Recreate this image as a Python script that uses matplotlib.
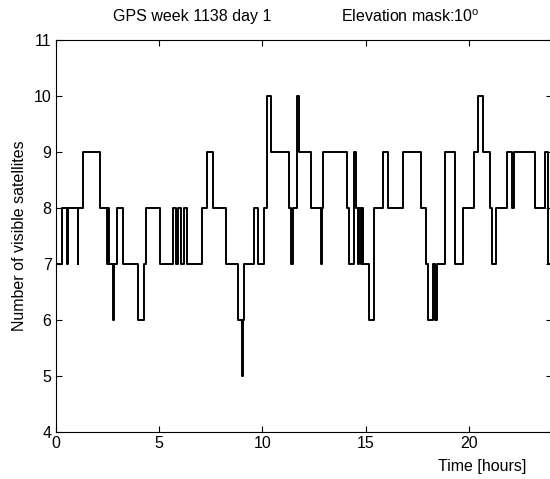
import matplotlib
matplotlib.use('Agg')
import matplotlib.pyplot as plt

plt.rcParams['font.family'] = ['Liberation Sans', 'DejaVu Sans']
plt.rcParams['mathtext.fontset'] = 'custom'
plt.rcParams['mathtext.rm'] = 'Liberation Sans'

# start time of each step [hours] and number of visible satellites from then on
t_hours = [0.00, 0.29, 0.53, 0.58, 1.06, 1.10, 1.34, 2.14, 2.47, 2.52, 2.57, 2.79, 2.83, 2.95,
           3.27, 4.00, 4.27, 4.37, 5.05, 5.66, 5.80, 5.93, 6.05, 6.21, 6.37, 7.07, 7.34, 7.60,
           8.24, 8.84, 9.02, 9.06, 9.11, 9.60, 9.81, 10.07, 10.22, 10.43, 11.28, 11.39, 11.47,
           11.70, 11.76, 12.36, 12.85, 12.89, 12.95, 14.08, 14.21, 14.44, 14.52, 14.65, 14.70,
           14.76, 14.84, 14.88, 15.16, 15.42, 15.86, 16.10, 16.82, 17.67, 17.91, 18.04, 18.25,
           18.36, 18.45, 18.84, 19.33, 19.70, 20.26, 20.42, 20.67, 21.02, 21.13, 21.31, 21.84,
           22.07, 22.19, 23.20, 23.68, 23.81, 23.88]
n_sats = [7, 8, 7, 8, 7, 8, 9, 8, 7, 8, 7, 6, 7, 8,
          7, 6, 7, 8, 7, 8, 7, 8, 7, 8, 7, 8, 9, 8,
          7, 6, 5, 6, 7, 8, 7, 8, 10, 9, 8, 7, 8,
          10, 9, 8, 7, 8, 9, 8, 7, 9, 8, 7, 8,
          7, 8, 7, 6, 8, 9, 8, 9, 8, 7, 6, 7,
          6, 7, 9, 7, 8, 9, 10, 9, 8, 7, 8, 9,
          8, 9, 8, 9, 7, 7]

W, H = 550, 479
fig = plt.figure(figsize=(W / 100, H / 100), dpi=100)
ax = fig.add_axes([55.7 / W, (H - 432.3) / H, 495.8 / W, 392.0 / H])

ax.step(t_hours, n_sats, where='post', color='black', linewidth=1.4)

ax.set_xlim(0, 24)
ax.set_ylim(4, 11)
ax.set_xticks([0, 5, 10, 15, 20])
ax.set_yticks(range(4, 12))
ax.tick_params(direction='in', top=True, right=True, length=4, width=0.8,
               labelsize=11.5, pad=3)
for s in ax.spines.values():
    s.set_linewidth(0.8)

fig.text(113 / W, 1 - 21.5 / H, 'GPS week 1138 day 1', ha='left', va='baseline', fontsize=11.5)
fig.text(341 / W, 1 - 21.5 / H, r'Elevation mask:10$^{\mathrm{o}}$', ha='left', va='baseline',
         fontsize=11.5)
fig.text(482 / W, 1 - 467 / H, 'Time [hours]', ha='center', va='center', fontsize=11.5)
fig.text(20 / W, 1 - 236 / H, 'Number of visible satellites', ha='center', va='center',
         rotation=90, fontsize=11.5)

fig.savefig('out.png', dpi=100)
